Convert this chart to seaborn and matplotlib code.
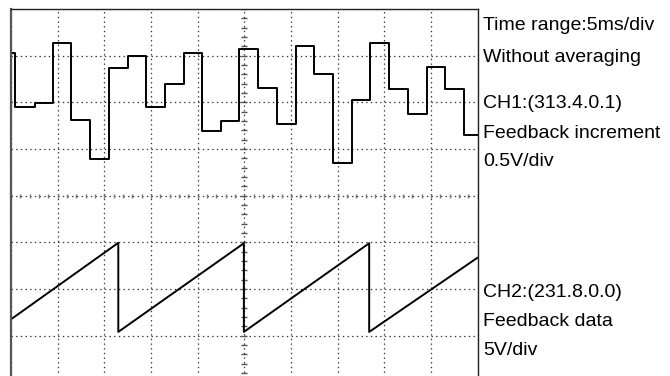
"""
Oscilloscope capture: CH1 feedback increment (steps) and CH2 feedback data (sawtooth).
"""

import numpy as np
import seaborn as sns
import matplotlib.pyplot as plt

# screen is 10 x 8 divisions, time axis 5 ms/div
time_per_div = 5
n_xdiv = 10
n_ydiv = 8

# CH1 (0.5 V/div): step edges in ms and step levels in divisions from screen centre
ch1_edges_ms = [0, 0.46, 2.54, 4.47, 6.46, 8.5, 10.53, 12.54, 14.5, 16.5, 18.5, 20.5,
                22.5, 24.46, 26.5, 28.5, 30.5, 32.5, 34.53, 36.54, 38.5, 40.53, 42.54,
                44.54, 46.53, 48.54, 50]
ch1_levels_div = [3.06, 1.91, 1.99, 3.28, 1.62, 0.78, 2.74, 2.99, 1.91, 2.39, 3.06, 1.39,
                  1.61, 3.14, 2.30, 1.53, 3.21, 2.61, 0.69, 2.06, 3.28, 2.29, 1.76, 2.75,
                  2.29, 1.30]

# CH2 (5 V/div): sawtooth corner points
ch2_time_ms = [0, 11.5, 11.5, 24.96, 24.96, 38.39, 38.39, 50]
ch2_div = [-2.65, -1.01, -2.92, -1.02, -2.92, -1.02, -2.92, -1.33]

info_lines = ["Time range:5ms/div", "Without averaging",
              "CH1:(313.4.0.1)", "Feedback increment", "0.5V/div",
              "CH2:(231.8.0.0)", "Feedback data", "5V/div"]
info_baselines_px = [30, 61.5, 108, 137.5, 166.5, 297, 326, 355]


def main():
    sns.set_theme(style="white")
    plt.rcParams["font.family"] = ["Liberation Sans", "DejaVu Sans"]
    plt.rcParams["lines.scale_dashes"] = False

    W, H = 670, 376
    fig = plt.figure(figsize=(W / 100, H / 100), dpi=100)
    # plot frame runs a bit past the bottom of the picture, as in the capture
    ax = fig.add_axes([11 / W, (H - 382.3) / H, 466.5 / W, 373.3 / H])

    xmax = n_xdiv * time_per_div
    ax.set_xlim(0, xmax)
    ax.set_ylim(-n_ydiv / 2, n_ydiv / 2)
    ax.set_xticks(np.arange(0, xmax + 1, time_per_div))
    ax.set_yticks(np.arange(-n_ydiv / 2, n_ydiv / 2 + 1, 1))
    ax.tick_params(length=0, labelbottom=False, labelleft=False)
    ax.grid(True, color="#333333", linestyle=(0, (1, 2.36)), linewidth=0.9)

    # small ticks along the centre lines
    ax.plot(np.arange(0, xmax + 0.01, time_per_div / 5), np.zeros(51), ls="none",
            marker="|", ms=3.5, mew=1.0, color="#777777", zorder=2)
    ax.plot(np.full(41, xmax / 2), np.arange(-4, 4.01, 0.2), ls="none",
            marker="_", ms=4, mew=1.0, color="#555555", zorder=2)

    # CH1 steps
    sns.lineplot(x=ch1_edges_ms, y=ch1_levels_div + [ch1_levels_div[-1]], sort=False,
                 estimator=None, drawstyle="steps-post", color="black", lw=1.4, ax=ax)
    # CH2 sawtooth
    sns.lineplot(x=ch2_time_ms, y=ch2_div, sort=False, estimator=None,
                 color="black", lw=1.4, ax=ax)

    for side in ["top", "left", "right"]:
        ax.spines[side].set_visible(True)
        ax.spines[side].set_color("#222222")
    ax.spines["left"].set_linewidth(1.6)
    ax.spines["left"].set_color("#555555")
    ax.spines["top"].set_linewidth(1.0)
    ax.spines["right"].set_linewidth(1.0)
    ax.spines["bottom"].set_visible(False)

    for txt, yb in zip(info_lines, info_baselines_px):
        fig.text(483 / W, 1 - yb / H, txt, fontsize=14, va="baseline", ha="left",
                 color="black")

    fig.savefig("out.png", dpi=100)


if __name__ == "__main__":
    main()
